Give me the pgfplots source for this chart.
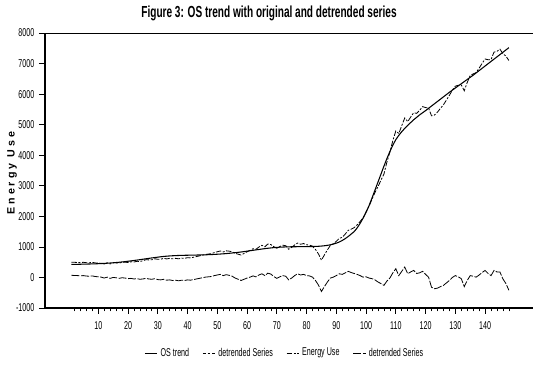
\documentclass[border=0pt]{standalone}
\usepackage{pgfplots}
\usepackage{pgfplotstable}
\pgfplotsset{compat=1.18}
\usepackage{fontspec}
\setmainfont{Liberation Sans}[FakeStretch=0.63]
\newfontfamily\ylabfont{Liberation Sans}

\pgfplotstableread{
x trend detr energy
1 430 70 500
2 430 65 495
3 430 60 490
4 432 55 487
5 435 60 495
6 438 45 483
7 440 40 480
8 443 50 493
9 446 30 476
10 450 20 470
11 455 10 465
12 460 -20 440
13 466 10 476
14 472 -30 442
15 480 0 480
16 488 -10 478
17 497 -30 467
18 507 -10 497
19 518 -20 498
20 530 -40 490
21 542 -30 512
22 555 -50 505
23 568 -40 528
24 582 -60 522
25 596 -50 546
26 610 -30 580
27 624 -50 574
28 638 -60 578
29 651 -40 611
30 664 -70 594
31 676 -80 596
32 687 -60 627
33 696 -90 606
34 704 -80 624
35 710 -100 610
36 715 -90 625
37 719 -110 609
38 722 -90 632
39 725 -100 625
40 727 -80 647
41 729 -90 639
42 731 -70 661
43 733 -50 683
44 735 -30 705
45 738 -10 728
46 741 10 751
47 745 20 765
48 749 30 779
49 754 60 814
50 760 80 840
51 766 100 866
52 773 60 833
53 781 90 871
54 790 70 860
55 800 40 840
56 810 -20 790
57 821 -60 761
58 833 -100 733
59 846 -60 786
60 860 -20 840
61 874 10 884
62 888 50 938
63 902 20 922
64 916 80 996
65 930 120 1050
66 943 60 1003
67 955 140 1095
68 966 110 1076
69 976 30 1006
70 984 -30 954
71 990 20 1010
72 995 60 1055
73 999 40 1039
74 1002 -80 922
75 1004 -20 984
76 1005 60 1065
77 1006 120 1126
78 1007 80 1087
79 1008 100 1108
80 1009 60 1069
81 1010 50 1060
82 1012 10 1022
83 1015 -100 915
84 1020 -250 770
85 1027 -460 567
86 1037 -300 737
87 1050 -150 900
88 1068 -20 1048
89 1092 10 1102
90 1122 60 1182
91 1160 120 1280
92 1210 100 1310
93 1270 150 1420
94 1340 200 1540
95 1420 160 1580
96 1500 130 1630
97 1620 100 1720
98 1770 60 1830
99 1940 10 1950
100 2130 20 2150
101 2350 -20 2330
102 2600 -40 2560
103 2860 -80 2780
104 3120 -150 2970
105 3380 -200 3180
106 3640 -260 3380
107 3890 -120 3770
108 4120 -20 4100
109 4330 150 4480
110 4510 285 4795
111 4650 60 4710
112 4770 200 4970
113 4880 340 5220
114 4980 120 5100
115 5070 180 5250
116 5160 230 5390
117 5240 130 5370
118 5320 150 5470
119 5390 200 5590
120 5460 100 5560
121 5535 10 5545
122 5610 -320 5290
123 5685 -370 5315
124 5760 -350 5410
125 5835 -300 5535
126 5910 -260 5650
127 5985 -180 5805
128 6060 -100 5960
129 6130 0 6130
130 6200 60 6260
131 6270 20 6290
132 6340 -40 6300
133 6410 -300 6110
134 6480 -100 6380
135 6550 60 6610
136 6620 40 6660
137 6695 10 6705
138 6770 80 6850
139 6845 160 7005
140 6920 230 7150
141 6995 130 7125
142 7070 60 7130
143 7145 230 7375
144 7220 180 7400
145 7295 175 7470
146 7370 -50 7320
147 7445 -200 7245
148 7520 -420 7100
}\datatable

\begin{document}
\begin{tikzpicture}
\useasboundingbox (-33.75pt,-44.25pt) rectangle (366pt,231pt);
\begin{axis}[
  at={(0,0)}, anchor=south west,
  scale only axis,
  width=366pt, height=206.25pt,
  xmin=-7.9, xmax=156.1,
  ymin=-1000, ymax=8000,
  axis x line*=bottom,
  axis y line*=left,
  axis line style={line width=0.8pt, black},
  tick align=outside,
  major tick length=4.5pt,
  minor tick length=2.5pt,
  every tick/.style={black, line width=0.5pt},
  xtick={10,20,...,140},
  xticklabels={10,20,30,40,50,60,70,80,90,100,110,120,130,140},
  minor xtick={2,4,...,148},
  ytick={-1000,0,1000,2000,3000,4000,5000,6000,7000,8000},
  yticklabels={-1000,0,1000,2000,3000,4000,5000,6000,7000,8000},
  ticklabel style={font=\fontsize{8.5}{10}\selectfont},
  xticklabel style={yshift=-2pt},
  title={Figure 3: OS trend with original and detrended series},
  title style={font=\bfseries\fontsize{12}{14}\selectfont, at={(axis description cs:0.459,1)}, anchor=center, yshift=9pt},
  ylabel={E n e r g y \ U s e},
  ylabel style={font=\ylabfont\bfseries\fontsize{8}{10}\selectfont, at={(axis description cs:-0.0676,0.49)}, anchor=center},
  legend columns=4,
  legend style={draw=none, fill=none, at={(axis description cs:0.492,-0.164)}, anchor=center,
    font=\fontsize{8.5}{10}\selectfont,
    /tikz/every even column/.append style={column sep=8pt}},
  legend image code/.code={\draw[#1] (0cm,0cm) -- (0.33cm,0cm);},
]
\draw[line width=0.8pt] (rel axis cs:0,1) -- (rel axis cs:1,1);
\addplot[black, line width=0.8pt] table[x=x, y=trend] {\datatable};
\addlegendentry{OS trend}
\addlegendimage{black, line width=0.6pt, dash pattern=on 2pt off 1.5pt}
\addlegendentry{detrended Series}
\addplot[black, line width=0.6pt, dash pattern=on 4pt off 1.2pt on 1.5pt off 1.2pt] table[x=x, y=energy] {\datatable};
\addlegendentry{Energy Use}
\addplot[black, line width=0.6pt, dash pattern=on 6pt off 1.2pt] table[x=x, y=detr] {\datatable};
\addlegendentry{detrended Series}
\end{axis}
\end{tikzpicture}
\end{document}
